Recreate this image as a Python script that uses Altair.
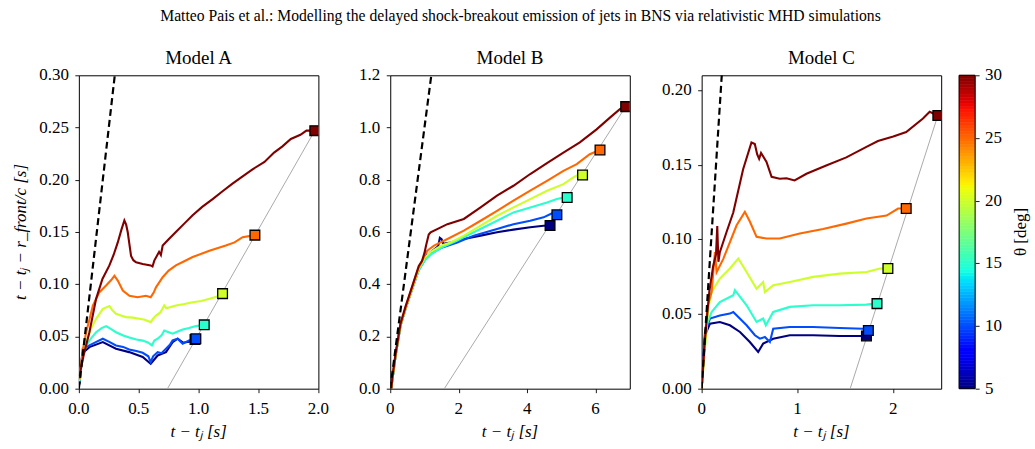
import altair as alt
import pandas as pd

FONT = "Liberation Serif"
THETAS = [5, 10, 15, 20, 25, 30]

# ---- Model A: t - t_j  vs  t - t_j - r_front/c, one curve per viewing angle ----
A_X = {
    5: [0.005, 0.03, 0.088, 0.2, 0.31, 0.42, 0.533, 0.6, 0.658, 0.7275, 0.783, 0.825, 0.87, 0.92, 0.97],
    10: [0.005, 0.033, 0.088, 0.15, 0.2, 0.25, 0.31, 0.37, 0.42, 0.48, 0.533, 0.58, 0.6, 0.62, 0.658,
         0.69, 0.7275, 0.76, 0.783, 0.825, 0.85, 0.867, 0.92, 0.977],
    15: [0.005, 0.03, 0.061, 0.1, 0.144, 0.19, 0.2275, 0.27, 0.31, 0.37, 0.42, 0.48, 0.533, 0.58, 0.61,
         0.63, 0.658, 0.69, 0.713, 0.75, 0.783, 0.83, 0.867, 0.92, 0.977, 1.047],
    20: [0.005, 0.03, 0.061, 0.1, 0.144, 0.2, 0.255, 0.28, 0.31, 0.35, 0.394, 0.45, 0.505, 0.55, 0.6,
         0.62, 0.644, 0.68, 0.713, 0.73, 0.81, 0.88, 0.95, 1.02, 1.09, 1.15, 1.2],
    25: [0.005, 0.03, 0.061, 0.09, 0.117, 0.172, 0.2275, 0.27, 0.297, 0.325, 0.367, 0.422, 0.49, 0.56,
         0.6, 0.625, 0.644, 0.7, 0.75, 0.81, 0.88, 0.95, 1.09, 1.227, 1.3, 1.367, 1.47],
    30: [0.005, 0.04, 0.088, 0.144, 0.197, 0.255, 0.29, 0.325, 0.355, 0.38, 0.395, 0.408, 0.42, 0.436,
         0.455, 0.478, 0.533, 0.6, 0.615, 0.63, 0.67, 0.685, 0.7, 0.75, 0.81, 0.88, 0.95, 1.03, 1.117,
         1.2, 1.28, 1.353, 1.45, 1.55, 1.63, 1.7, 1.77, 1.85, 1.9, 1.97],
}
A_Y = {
    5: [0.004, 0.034, 0.0398, 0.0446, 0.0382, 0.035, 0.0303, 0.0239, 0.0318, 0.035, 0.0446, 0.0478,
        0.044, 0.045, 0.047],
    10: [0.006, 0.0382, 0.0414, 0.045, 0.0478, 0.045, 0.0414, 0.04, 0.0376, 0.036, 0.0344, 0.031,
         0.0255, 0.031, 0.035, 0.034, 0.0382, 0.042, 0.0462, 0.0478, 0.045, 0.043, 0.0462, 0.0478],
    15: [0.007, 0.03, 0.0414, 0.048, 0.054, 0.058, 0.0599, 0.057, 0.054, 0.051, 0.049, 0.047, 0.046,
         0.044, 0.0414, 0.046, 0.0478, 0.051, 0.0557, 0.054, 0.0526, 0.055, 0.0567, 0.058, 0.0599, 0.0611],
    20: [0.008, 0.032, 0.0446, 0.057, 0.0669, 0.0764, 0.079, 0.075, 0.0717, 0.07, 0.0685, 0.068,
         0.0669, 0.066, 0.0637, 0.067, 0.07, 0.073, 0.0796, 0.077, 0.0796, 0.081, 0.0828, 0.084, 0.086,
         0.088, 0.091],
    25: [0.009, 0.035, 0.054, 0.067, 0.0796, 0.0924, 0.0987, 0.104, 0.108, 0.1035, 0.094, 0.089,
         0.0876, 0.089, 0.0876, 0.092, 0.097, 0.1067, 0.113, 0.118, 0.122, 0.126, 0.132, 0.137, 0.14,
         0.145, 0.147],
    30: [0.012, 0.032, 0.054, 0.086, 0.105, 0.118, 0.128, 0.14, 0.152, 0.161, 0.157, 0.15, 0.14, 0.127,
         0.123, 0.121, 0.1194, 0.118, 0.117, 0.1226, 0.131, 0.128, 0.137, 0.143, 0.15, 0.158, 0.166,
         0.174, 0.1815, 0.189, 0.196, 0.202, 0.21, 0.217, 0.226, 0.232, 0.239, 0.243, 0.247, 0.247],
}

# ---- Model B ----
B_X = {
    5: [0.03, 0.058, 0.157, 0.3, 0.447, 0.64, 0.834, 1.0, 1.18, 1.4, 1.45, 1.5, 1.55, 1.76, 2.15,
        2.64, 3.12, 3.6, 4.09, 4.48, 4.67],
    10: [0.03, 0.058, 0.157, 0.3, 0.447, 0.64, 0.834, 1.0, 1.03, 1.07, 1.2, 1.5, 1.96, 2.44, 3.12,
         3.6, 4.09, 4.48, 4.72, 4.87],
    15: [0.03, 0.058, 0.157, 0.3, 0.447, 0.64, 0.834, 1.0, 1.2, 1.5, 1.96, 2.44, 3.12, 3.6, 4.09,
         4.58, 4.87, 5.06, 5.17],
    20: [0.03, 0.058, 0.157, 0.3, 0.447, 0.64, 0.834, 1.0, 1.2, 1.5, 1.76, 2.15, 2.64, 3.12, 3.6,
         4.09, 4.58, 5.06, 5.35, 5.5, 5.62],
    25: [0.03, 0.058, 0.157, 0.3, 0.447, 0.64, 0.834, 0.9, 1.0, 1.1, 1.28, 1.67, 2.15, 2.64, 3.12,
         3.6, 4.09, 4.58, 5.06, 5.45, 5.83, 6.13],
    30: [0.03, 0.058, 0.157, 0.3, 0.447, 0.64, 0.834, 0.93, 1.0, 1.05, 1.125, 1.18, 1.67, 2.15, 2.64,
         3.12, 3.6, 4.09, 4.58, 5.06, 5.54, 6.03, 6.42, 6.71, 6.88],
}
B_Y = {
    5: [0.0, 0.03, 0.127, 0.242, 0.306, 0.382, 0.459, 0.495, 0.522, 0.545, 0.578, 0.573, 0.555, 0.56,
        0.573, 0.586, 0.599, 0.609, 0.618, 0.624, 0.625],
    10: [0.0, 0.03, 0.127, 0.242, 0.306, 0.382, 0.455, 0.49, 0.53, 0.505, 0.517, 0.54, 0.56, 0.586,
         0.611, 0.63, 0.643, 0.656, 0.671, 0.666],
    15: [0.0, 0.03, 0.127, 0.242, 0.306, 0.382, 0.455, 0.49, 0.515, 0.54, 0.567, 0.599, 0.643, 0.675,
         0.694, 0.713, 0.726, 0.732, 0.732],
    20: [0.0, 0.03, 0.127, 0.242, 0.306, 0.382, 0.459, 0.5, 0.525, 0.548, 0.56, 0.586, 0.624, 0.662,
         0.694, 0.726, 0.758, 0.783, 0.809, 0.82, 0.818],
    25: [0.0, 0.035, 0.13, 0.245, 0.31, 0.388, 0.465, 0.48, 0.51, 0.53, 0.548, 0.573, 0.605, 0.643,
         0.681, 0.72, 0.758, 0.796, 0.834, 0.86, 0.898, 0.914],
    30: [0.0, 0.04, 0.135, 0.25, 0.315, 0.392, 0.47, 0.49, 0.52, 0.55, 0.59, 0.599, 0.63, 0.65, 0.694,
         0.739, 0.777, 0.822, 0.864, 0.904, 0.943, 0.993, 1.038, 1.07, 1.08],
}

# ---- Model C ----
C_X = {
    5: [0.0, 0.035, 0.087, 0.19, 0.295, 0.4, 0.503, 0.59, 0.642, 0.747, 0.92, 1.163, 1.44, 1.684, 1.72],
    10: [0.0, 0.035, 0.087, 0.19, 0.295, 0.33, 0.469, 0.556, 0.608, 0.66, 0.712, 0.747, 0.92, 1.163,
         1.44, 1.684, 1.74],
    15: [0.0, 0.052, 0.104, 0.19, 0.33, 0.347, 0.469, 0.573, 0.642, 0.67, 0.747, 0.92, 1.163, 1.44,
         1.72, 1.806, 1.83],
    20: [0.0, 0.069, 0.104, 0.19, 0.295, 0.382, 0.469, 0.573, 0.642, 0.66, 0.747, 0.92, 1.163, 1.44,
         1.72, 1.86, 1.944],
    25: [0.0, 0.06, 0.104, 0.139, 0.156, 0.226, 0.365, 0.451, 0.503, 0.573, 0.677, 0.816, 1.024, 1.267,
         1.51, 1.72, 1.93, 2.05, 2.135],
    30: [0.0, 0.03, 0.08, 0.12, 0.15, 0.163, 0.175, 0.19, 0.26, 0.33, 0.433, 0.52, 0.555, 0.58, 0.6,
         0.62, 0.677, 0.73, 0.815, 0.885, 0.97, 1.094, 1.3, 1.51, 1.72, 1.84, 2.0, 2.135, 2.31, 2.38,
         2.465],
}
C_Y = {
    5: [0.0, 0.0358, 0.0436, 0.0447, 0.0425, 0.038, 0.0313, 0.0246, 0.0302, 0.0335, 0.0358, 0.0358,
        0.0353, 0.0353, 0.0353],
    10: [0.0, 0.038, 0.047, 0.049, 0.0503, 0.0514, 0.0425, 0.0358, 0.0335, 0.0346, 0.0313, 0.0402,
         0.0413, 0.0413, 0.0407, 0.0402, 0.039],
    15: [0.0, 0.0425, 0.0514, 0.058, 0.0626, 0.066, 0.0559, 0.0447, 0.047, 0.0425, 0.0514, 0.0548,
         0.0559, 0.0559, 0.0563, 0.057, 0.057],
    20: [0.0, 0.0536, 0.0648, 0.0738, 0.0805, 0.0872, 0.0782, 0.067, 0.0715, 0.0648, 0.0693, 0.0715,
         0.0749, 0.0771, 0.0782, 0.0805, 0.0805],
    25: [0.0, 0.055, 0.0648, 0.0916, 0.078, 0.087, 0.1095, 0.1185, 0.112, 0.1017, 0.1006, 0.1006,
         0.104, 0.107, 0.1106, 0.114, 0.116, 0.1207, 0.1207],
    30: [0.0, 0.03, 0.065, 0.082, 0.09, 0.109, 0.085, 0.0915, 0.105, 0.118, 0.147, 0.165, 0.164,
         0.157, 0.154, 0.158, 0.152, 0.142, 0.1407, 0.141, 0.1395, 0.144, 0.1496, 0.155, 0.162, 0.166,
         0.169, 0.172, 0.181, 0.1855, 0.183],
}

# Axis ranges, ticks, tick labels and reference lines per model
X_MAX = {"A": 2.0, "B": 7.0, "C": 2.5}
Y_MAX = {"A": 0.30, "B": 1.2, "C": 0.21}
X_TICKS = {"A": [0.0, 0.5, 1.0, 1.5, 2.0], "B": [0, 2, 4, 6], "C": [0, 1, 2]}
X_LABELS = {"A": ["0.0", "0.5", "1.0", "1.5", "2.0"], "B": ["0", "2", "4", "6"], "C": ["0", "1", "2"]}
Y_TICKS = {"A": [0.0, 0.05, 0.10, 0.15, 0.20, 0.25, 0.30],
           "B": [0.0, 0.2, 0.4, 0.6, 0.8, 1.0, 1.2],
           "C": [0.0, 0.05, 0.10, 0.15, 0.20]}
Y_LABELS = {"A": ["0.00", "0.05", "0.10", "0.15", "0.20", "0.25", "0.30"],
            "B": ["0.0", "0.2", "0.4", "0.6", "0.8", "1.0", "1.2"],
            "C": ["0.00", "0.05", "0.10", "0.15", "0.20"]}
GRAY_X0 = {"A": 0.74, "B": 1.58, "C": 1.55}   # where the breakout line meets zero
CB_TICKS = [5, 10, 15, 20, 25, 30]
CB_LABELS = ["5", "10", "15", "20", "25", "30"]
X_TITLE = "t − tⱼ [s]"
Y_TITLE = "t − tⱼ − r_front/c [s]"
CB_TITLE = "θ [deg]"

# matplotlib "jet" colour map, rebuilt from its segment data
JET = {
    "r": [(0, 0), (0.35, 0), (0.66, 1), (0.89, 1), (1, 0.5)],
    "g": [(0, 0), (0.125, 0), (0.375, 1), (0.64, 1), (0.91, 0), (1, 0)],
    "b": [(0, 0.5), (0.11, 1), (0.34, 1), (0.65, 0), (1, 0)],
}


def _interp(pts, v):
    for (x0, y0), (x1, y1) in zip(pts[:-1], pts[1:]):
        if x0 <= v <= x1:
            return y0 + (y1 - y0) * (v - x0) / (x1 - x0)
    return pts[-1][1]


stops = sorted({p[0] for ch in JET.values() for p in ch})
jet_hex = []
for s in stops:
    r, g, b = (_interp(JET[c], s) for c in "rgb")
    jet_hex.append("#%02x%02x%02x" % (round(r * 255), round(g * 255), round(b * 255)))
jet_domain = [5 + 25 * s for s in stops]
color_scale = alt.Scale(domain=jet_domain, range=jet_hex, interpolate="rgb")

W, H = 240, 314
FS = 17
TEXT = dict(font=FONT, fontSize=FS, color="black")
TICKS_ONLY = dict(labels=False, title=None, domain=False, grid=False,
                  tickColor="black", tickSize=4, tickWidth=0.9)


def curves_frame(xs, ys):
    rows = []
    for th in THETAS:
        for i, (x, y) in enumerate(zip(xs[th], ys[th])):
            rows.append({"theta": th, "order": i, "x": x, "y": y})
    return pd.DataFrame(rows)


def panel(key, xs, ys, show_ytitle):
    df = curves_frame(xs, ys)
    ends = df.sort_values("order").groupby("theta").tail(1)
    xsc = alt.Scale(domain=[0, X_MAX[key]], nice=False, zero=False)
    ysc = alt.Scale(domain=[0, Y_MAX[key]], nice=False, zero=False)
    xax = alt.Axis(values=X_TICKS[key], **TICKS_ONLY)
    yax = alt.Axis(values=Y_TICKS[key], **TICKS_ONLY)
    X = alt.X("x:Q", scale=xsc, axis=xax)
    Y = alt.Y("y:Q", scale=ysc, axis=yax)

    top = ends[ends.theta == 30].iloc[0]
    gray_df = pd.DataFrame({"x": [GRAY_X0[key], top.x], "y": [0.0, top.y]})
    dash_df = pd.DataFrame({"x": [0.0, Y_MAX[key]], "y": [0.0, Y_MAX[key]]})

    lines = alt.Chart(df).mark_line(strokeWidth=2.1, clip=True).encode(
        x=X, y=Y,
        color=alt.Color("theta:Q", scale=color_scale, legend=None),
        detail="theta:N",
        order="order:Q",
    )
    gray = alt.Chart(gray_df).mark_line(color="#a0a0a0", strokeWidth=0.9, clip=True).encode(x=X, y=Y)
    dashed = alt.Chart(dash_df).mark_line(color="black", strokeWidth=2.2, strokeDash=[7, 4],
                                          clip=True).encode(x=X, y=Y)
    squares = alt.Chart(ends).mark_square(size=95, stroke="black", strokeWidth=1.3, opacity=1,
                                          clip=True).encode(
        x=X, y=Y,
        color=alt.Color("theta:Q", scale=color_scale, legend=None),
    )

    # tick labels and axis titles, set in the serif face
    xlab = alt.Chart(pd.DataFrame({"x": X_TICKS[key], "lab": X_LABELS[key]})).mark_text(
        align="center", baseline="alphabetic", **TEXT).encode(
        x=X, y=alt.value(H + 25), text="lab:N")
    ylab = alt.Chart(pd.DataFrame({"y": Y_TICKS[key], "lab": Y_LABELS[key]})).mark_text(
        align="right", baseline="middle", **TEXT).encode(
        y=Y, x=alt.value(-10), text="lab:N")
    xtitle = alt.Chart(pd.DataFrame({"k": [0]})).mark_text(
        align="center", baseline="alphabetic", fontStyle="italic", text=X_TITLE, **TEXT).encode(
        x=alt.value(W / 2), y=alt.value(H + 48))
    layers = [gray, lines, dashed, squares, xlab, ylab, xtitle]
    if show_ytitle:
        layers.append(alt.Chart(pd.DataFrame({"k": [0]})).mark_text(
            align="center", baseline="middle", angle=270, fontStyle="italic", text=Y_TITLE,
            **TEXT).encode(x=alt.value(-58), y=alt.value(H / 2)))
    return alt.layer(*layers).properties(width=W, height=H, title=f"Model {key}")


chart_a = panel("A", A_X, A_Y, True)
chart_b = panel("B", B_X, B_Y, False)
chart_c_main = panel("C", C_X, C_Y, False)

# Colour bar for the viewing angle, drawn beside Model C
cb_lo = [5 + 0.25 * i for i in range(100)]
cb_df = pd.DataFrame({"lo": cb_lo, "hi": [v + 0.25 for v in cb_lo], "mid": [v + 0.125 for v in cb_lo]})
CB_LEFT, CB_RIGHT = 258, 274
cb_scale = alt.Scale(domain=[5, 30], nice=False, zero=False)
cb_axis = alt.Axis(orient="right", offset=CB_RIGHT - W, values=CB_TICKS, **TICKS_ONLY)
colorbar = alt.Chart(cb_df).mark_rect(strokeWidth=0.6, clip=False).encode(
    x=alt.value(CB_LEFT), x2=alt.value(CB_RIGHT),
    y=alt.Y("lo:Q", scale=cb_scale, axis=cb_axis),
    y2="hi:Q",
    color=alt.Color("mid:Q", scale=color_scale, legend=None),
    stroke=alt.Color("mid:Q", scale=color_scale, legend=None),
)
cb_frame = alt.Chart(pd.DataFrame({"k": [0]})).mark_rect(
    fill=None, stroke="black", strokeWidth=1, clip=False).encode(
    x=alt.value(CB_LEFT), x2=alt.value(CB_RIGHT), y=alt.value(0), y2=alt.value(H))
cb_lab = alt.Chart(pd.DataFrame({"lo": CB_TICKS, "lab": CB_LABELS})).mark_text(
    align="left", baseline="middle", **TEXT).encode(
    y=alt.Y("lo:Q", scale=cb_scale, axis=cb_axis), x=alt.value(CB_RIGHT + 10), text="lab:N")
cb_title = alt.Chart(pd.DataFrame({"k": [0]})).mark_text(
    align="center", baseline="middle", angle=270, text=CB_TITLE, **TEXT).encode(
    x=alt.value(CB_RIGHT + 46), y=alt.value(H / 2))

chart_c = alt.layer(chart_c_main, alt.layer(colorbar, cb_frame, cb_lab, cb_title)).resolve_scale(
    y="independent").properties(width=W, height=H, title="Model C")

chart = alt.hconcat(chart_a, chart_b, chart_c, spacing=72, bounds="flush").properties(
    title=alt.TitleParams(
        "Matteo Pais et al.: Modelling the delayed shock-breakout emission of jets in BNS via relativistic MHD simulations",
        font=FONT, fontSize=15.7, fontWeight="normal", anchor="middle", offset=24),
    padding={"left": 11, "top": 7, "right": 5, "bottom": 5},
).configure_view(stroke="black", strokeWidth=1).configure_title(
    font=FONT, fontSize=19, fontWeight="normal", color="black", offset=-2)

chart.save("out.html", embed_options={"renderer": "svg", "actions": False})
